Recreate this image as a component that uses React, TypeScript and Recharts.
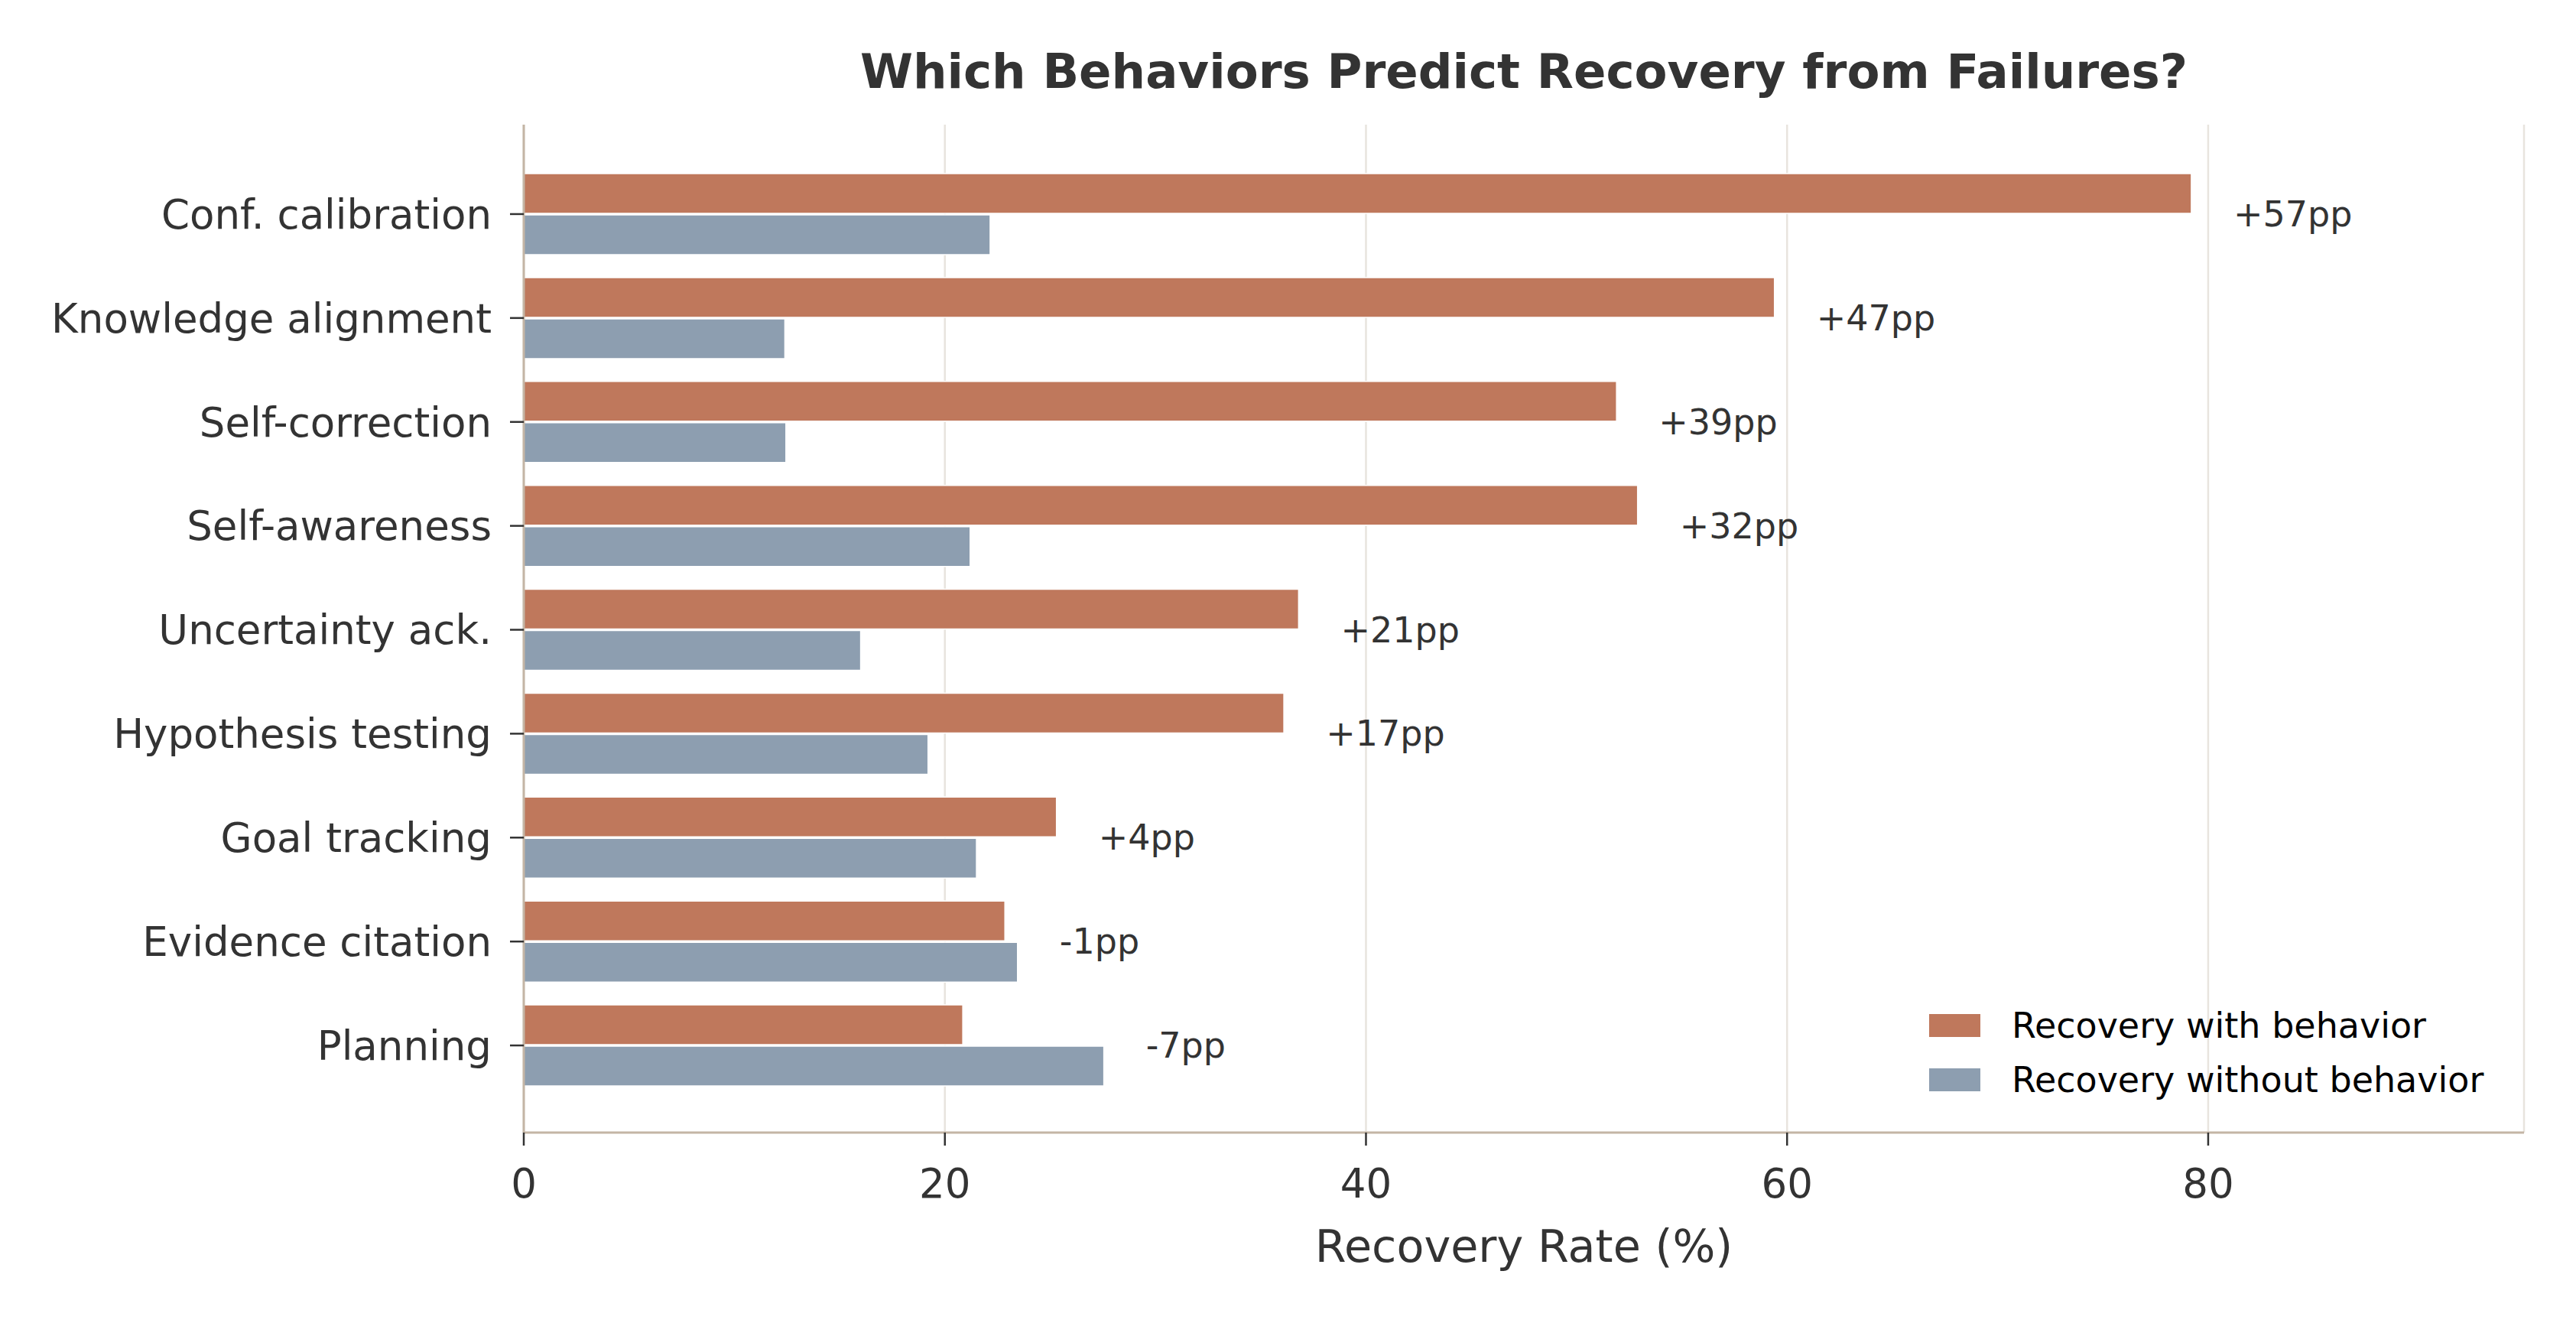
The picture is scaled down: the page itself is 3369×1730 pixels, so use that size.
import React from 'react';
import { BarChart, Bar, XAxis, YAxis, CartesianGrid, Legend, LabelList } from 'recharts';

const behaviors = [
  'Conf. calibration',
  'Knowledge alignment',
  'Self-correction',
  'Self-awareness',
  'Uncertainty ack.',
  'Hypothesis testing',
  'Goal tracking',
  'Evidence citation',
  'Planning',
];
const withBehavior = [79.2, 59.4, 51.9, 52.9, 36.8, 36.1, 25.3, 22.85, 20.85];
const withoutBehavior = [22.15, 12.4, 12.45, 21.2, 16.0, 19.2, 21.5, 23.45, 27.55];
const gapLabels = ['+57pp', '+47pp', '+39pp', '+32pp', '+21pp', '+17pp', '+4pp', '-1pp', '-7pp'];
const xTicks = [0, 20, 40, 60, 80];

const FONT = '"DejaVu Sans", sans-serif';
const TEXT = '#333333';
const SPINE = '#c4b5a5';
const ORANGE = '#bf785c';
const SLATE = '#8d9eb0';

const data = behaviors.map((behavior, i) => ({
  behavior,
  with: withBehavior[i],
  without: withoutBehavior[i],
  gap: gapLabels[i],
}));

// difference label sits 2 units past the longer of the two bars
const renderGap = (props: any) => {
  const { x, y, width, height, value } = props;
  const i = props.index ?? gapLabels.indexOf(value);
  const w = withBehavior[i];
  const unit = Number(width) / w;
  const tx = Number(x) + (Math.max(w, withoutBehavior[i]) + 2) * unit;
  const ty = Number(y) + Number(height) + 1;
  return (
    <text x={tx} y={ty} dominantBaseline="central" fontSize={46} fontFamily={FONT} fill={TEXT}>
      {gapLabels[i]}
    </text>
  );
};

const renderLegend = (props: any) => {
  const { payload = [] } = props;
  return (
    <div style={{ fontFamily: FONT }}>
      {payload.map((p: any) => (
        <div key={p.value} style={{ display: 'flex', alignItems: 'center', height: 71 }}>
          <span style={{ display: 'inline-block', width: 67, height: 30, background: p.color, marginRight: 41 }} />
          <span style={{ fontSize: 46, color: '#000', whiteSpace: 'nowrap' }}>{p.value}</span>
        </div>
      ))}
    </div>
  );
};

export default function App() {
  return (
    <div style={{ position: 'absolute', left: 0, top: 0, width: 3369, height: 1730, background: '#fff' }}>
      <BarChart
        width={3369}
        height={1730}
        data={data}
        layout="vertical"
        margin={{ top: 163, right: 68, bottom: 0, left: 0 }}
        barSize={52}
        barGap={2}
      >
        <CartesianGrid horizontal={false} vertical stroke="#e8e4de" strokeWidth={2.5} />
        <XAxis
          type="number"
          domain={[0, 95]}
          ticks={xTicks}
          height={249}
          tickSize={17}
          tickMargin={30}
          axisLine={{ stroke: SPINE, strokeWidth: 3 }}
          tickLine={{ stroke: TEXT, strokeWidth: 2.5 }}
          tick={{ fontSize: 53, fill: TEXT, fontFamily: FONT }}
          label={{
            value: 'Recovery Rate (%)',
            position: 'insideBottom',
            offset: 80,
            fontSize: 58.8,
            fill: TEXT,
            fontFamily: FONT,
          }}
        />
        <YAxis
          type="category"
          dataKey="behavior"
          width={685}
          padding={{ top: 49, bottom: 46 }}
          tickSize={18}
          tickMargin={24}
          axisLine={{ stroke: SPINE, strokeWidth: 3 }}
          tickLine={{ stroke: TEXT, strokeWidth: 2.5 }}
          tick={{ fontSize: 53, fill: TEXT, fontFamily: FONT }}
          interval={0}
        />
        <Bar
          dataKey="with"
          name="Recovery with behavior"
          fill={ORANGE}
          stroke="#fff"
          strokeWidth={1.5}
          isAnimationActive={false}
        >
          <LabelList dataKey="gap" content={renderGap} />
        </Bar>
        <Bar
          dataKey="without"
          name="Recovery without behavior"
          fill={SLATE}
          stroke="#fff"
          strokeWidth={1.5}
          isAnimationActive={false}
        />
        <Legend
          layout="vertical"
          align="center"
          verticalAlign="middle"
          content={renderLegend}
          wrapperStyle={{ left: 2523, top: 1305, width: 820, height: 142 }}
        />
      </BarChart>
      <svg width={3369} height={200} style={{ position: 'absolute', left: 0, top: 0, pointerEvents: 'none' }}>
        <text x={1993} y={115} textAnchor="middle" fontSize={62.6} fontWeight="bold" fontFamily={FONT} fill={TEXT}>
          Which Behaviors Predict Recovery from Failures?
        </text>
      </svg>
    </div>
  );
}
